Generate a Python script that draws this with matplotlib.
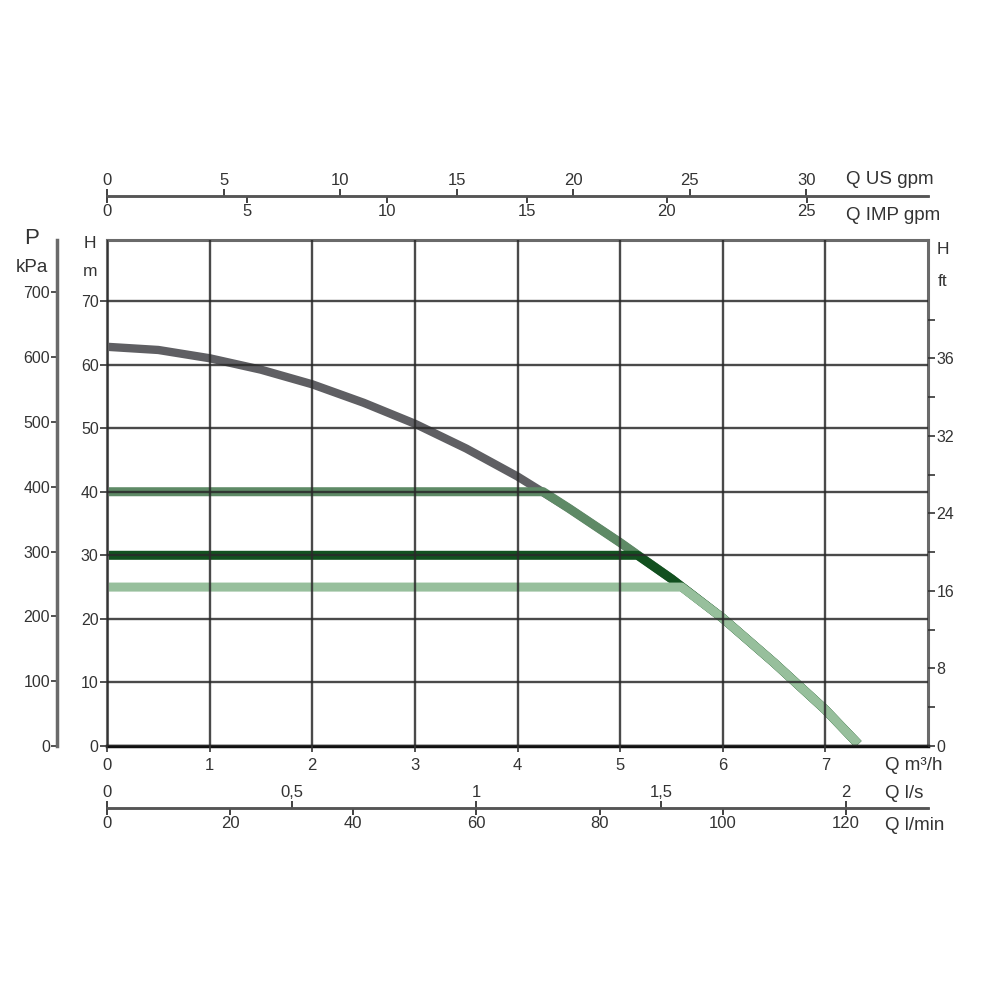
import numpy as np
import matplotlib.pyplot as plt

plt.rcParams['font.family'] = ['Liberation Sans', 'DejaVu Sans']

# pump curve, Q in m3/h, H in m
q_curve = [0, 0.5, 1, 1.5, 2, 2.5, 3, 3.5, 4, 4.5, 5, 5.5, 6, 6.5, 7, 7.32]
h_curve = [62.8, 62.3, 61.0, 59.2, 56.9, 54.0, 50.7, 46.8, 42.4, 37.4, 32.0, 26.3, 20.1, 13.1, 5.7, 0.3]

# pressure settings (H in m) and where they meet the curve
set_h = [40, 30, 25]
set_q = [4.25, 5.17, 5.6]
set_colors = ['#5e8a66', '#12501f', '#97bf9c']

# axis ticks
q_ticks = [0, 1, 2, 3, 4, 5, 6, 7]
h_ticks = [0, 10, 20, 30, 40, 50, 60, 70]
kpa_ticks = [0, 100, 200, 300, 400, 500, 600, 700]
ft_ticks = [0, 40, 80, 120, 160, 200]
ft_labels = ['0', '8', '16', '24', '32', '36']
ft_minor = [20, 60, 100, 140, 180, 220]
us_ticks = [0, 5, 10, 15, 20, 25, 30]
imp_ticks = [0, 5, 10, 15, 20, 25]
ls_ticks = [0, 0.5, 1, 1.5, 2]
ls_labels = ['0', '0,5', '1', '1,5', '2']
lmin_ticks = [0, 20, 40, 60, 80, 100, 120]

# unit conversions from m3/h and m
US_GPM = 4.40287
IMP_GPM = 3.66615
L_S = 1 / 3.6
L_MIN = 1000 / 60
KPA = 9.80665
FT = 1 / 0.3048

QMAX = 8
HMAX = 79.6
txt = '#333333'

fig = plt.figure(figsize=(10, 10), dpi=100)
L, W = 0.107, 0.821
B, H = 0.254, 0.506

ax = fig.add_axes([L, B, W, H])
ax.set_xlim(0, QMAX)
ax.set_ylim(0, HMAX)
ax.set_xticks(q_ticks)
ax.set_yticks(h_ticks)
ax.grid(True, color='#2a2a2a', lw=1.7, alpha=0.85)
ax.set_axisbelow(False)
ax.tick_params(axis='x', length=4, width=1.2, pad=5, labelsize=12, colors=txt)
ax.tick_params(axis='y', length=5, width=1.2, pad=1, labelsize=11.5, colors=txt)
for s in ['left', 'right', 'top']:
    ax.spines[s].set_color('#6a6a6a')
    ax.spines[s].set_linewidth(2.2)
ax.spines['bottom'].set_color('#111111')
ax.spines['bottom'].set_linewidth(2.5)

# main curve
ax.plot(q_curve, h_curve, color='#5f5f63', lw=6, solid_capstyle='butt',
        solid_joinstyle='round', zorder=2)
# settings: horizontal line then down the curve
for hs, qs, c in zip(set_h, set_q, set_colors):
    xs = [0, qs] + [q for q in q_curve if q > qs]
    ys = [hs, hs] + [h for q, h in zip(q_curve, h_curve) if q > qs]
    ax.plot(xs, ys, color=c, lw=6.5, solid_capstyle='butt', solid_joinstyle='round', zorder=2)

# right axis in ft
axr = ax.twinx()
axr.set_ylim(0, HMAX * FT)
axr.set_yticks(ft_ticks)
axr.set_yticklabels(ft_labels)
axr.set_yticks(ft_minor, minor=True)
axr.tick_params(axis='y', which='both', length=5, width=1.2, pad=1, labelsize=11.5, colors=txt)
for s in axr.spines.values():
    s.set_visible(False)

# left pressure axis
axp = fig.add_axes([0.057, B, 0.001, H])
axp.set_ylim(0, HMAX * KPA)
axp.set_yticks(kpa_ticks)
axp.set_xticks([])
axp.tick_params(axis='y', length=4, width=1.2, pad=1, labelsize=11.5, colors=txt)
for s in ['right', 'top', 'bottom']:
    axp.spines[s].set_visible(False)
axp.spines['left'].set_color('#6a6a6a')
axp.spines['left'].set_linewidth(2.5)
axp.patch.set_visible(False)


def flow_axis(y, xmax, ticks, labels, side):
    a = fig.add_axes([L, y, W, 0.0001])
    a.set_xlim(0, xmax)
    a.set_yticks([])
    a.patch.set_visible(False)
    for s in a.spines.values():
        s.set_visible(False)
    a.spines[side].set_visible(True)
    a.spines[side].set_color('#555555')
    a.spines[side].set_linewidth(1.8)
    a.set_xticks(ticks)
    a.set_xticklabels(labels)
    if side == 'top':
        a.xaxis.tick_top()
    a.tick_params(axis='x', length=5, width=1.3, pad=1, labelsize=12, colors=txt)
    return a


# top flow scales
flow_axis(1 - 0.196, QMAX * US_GPM, us_ticks, [str(t) for t in us_ticks], 'top')
flow_axis(1 - 0.196, QMAX * IMP_GPM, imp_ticks, [str(t) for t in imp_ticks], 'bottom')
# bottom flow scales
flow_axis(1 - 0.808, QMAX * L_S, ls_ticks, ls_labels, 'top')
flow_axis(1 - 0.808, QMAX * L_MIN, lmin_ticks, [str(t) for t in lmin_ticks], 'bottom')

# unit labels
def lab(x, y, s, size=13.5, ha='left'):
    fig.text(x / 1000, 1 - y / 1000, s, ha=ha, va='center', fontsize=size, color=txt)

lab(846, 180, 'Q US gpm')
lab(846, 215, 'Q IMP gpm')
lab(885, 766, 'Q m³/h')
lab(885, 793, 'Q l/s')
lab(885, 826, 'Q l/min')
lab(90, 243, 'H', 12.5, 'center')
lab(90, 272, 'm', 12.5, 'center')
lab(943, 249, 'H', 12.5, 'center')
lab(943, 281, 'ft', 12.5, 'center')
lab(32, 238, 'P', 16, 'center')
lab(32, 268, 'kPa', 13.5, 'center')

fig.savefig('out.png', dpi=100, facecolor='white')
